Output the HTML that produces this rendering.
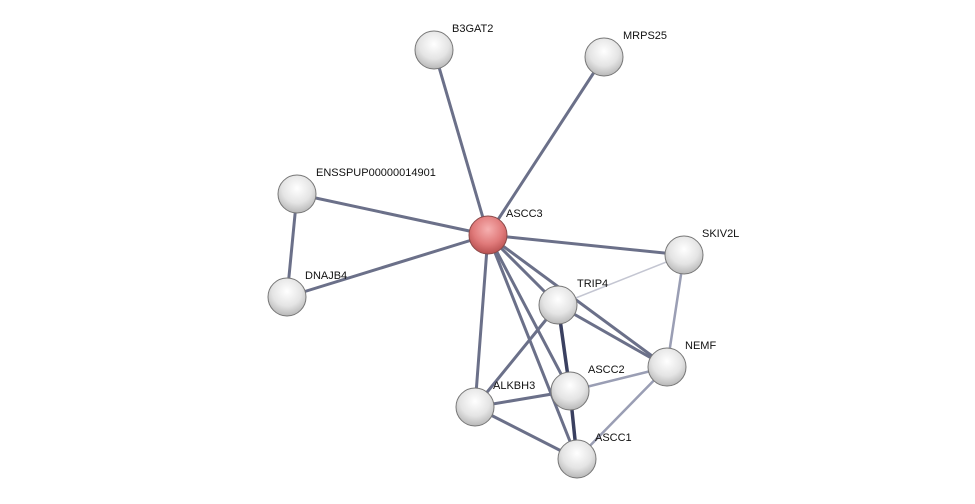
<!DOCTYPE html>
<html><head><meta charset="utf-8"><style>
html,body{margin:0;padding:0;background:#fff;}
svg{display:block;}
text{font-family:"Liberation Sans",sans-serif;font-size:11px;fill:#111;}
</style></head><body>
<svg width="975" height="504" viewBox="0 0 975 504" xmlns="http://www.w3.org/2000/svg">
<defs>
<radialGradient id="g" cx="50%" cy="35%" r="65%">
<stop offset="0" stop-color="#ffffff"/><stop offset="0.6" stop-color="#e4e4e4"/><stop offset="1" stop-color="#b8b8b8"/>
</radialGradient>
<radialGradient id="r" cx="50%" cy="35%" r="65%">
<stop offset="0" stop-color="#f6b0b0"/><stop offset="0.6" stop-color="#e07a7a"/><stop offset="1" stop-color="#b85050"/>
</radialGradient>
</defs>
<g stroke-linecap="round">
<g stroke="#6b7089" stroke-width="3">
<line x1="488" y1="235" x2="434" y2="50"/>
<line x1="488" y1="235" x2="604" y2="57"/>
<line x1="488" y1="235" x2="297" y2="194"/>
<line x1="488" y1="235" x2="684" y2="255"/>
<line x1="488" y1="235" x2="287" y2="297"/>
<line x1="488" y1="235" x2="558" y2="305"/>
<line x1="488" y1="235" x2="667" y2="367"/>
<line x1="488" y1="235" x2="570" y2="391"/>
<line x1="488" y1="235" x2="475" y2="407"/>
<line x1="488" y1="235" x2="577" y2="459"/>
<line x1="297" y1="194" x2="287" y2="297"/>
<line x1="558" y1="305" x2="667" y2="367"/>
<line x1="558" y1="305" x2="475" y2="407"/>
<line x1="475" y1="407" x2="570" y2="391"/>
<line x1="475" y1="407" x2="577" y2="459"/>
</g>
<g stroke="#3a4060" stroke-width="3.5">
<line x1="558" y1="305" x2="570" y2="391"/>
<line x1="570" y1="391" x2="577" y2="459"/>
</g>
<g stroke="#9a9eb4" stroke-width="2.5">
<line x1="684" y1="255" x2="667" y2="367"/>
<line x1="570" y1="391" x2="667" y2="367"/>
<line x1="577" y1="459" x2="667" y2="367"/>
</g>
<line x1="558" y1="305" x2="684" y2="255" stroke="#c4c6d2" stroke-width="1.5"/>
</g>
<g stroke="#777" stroke-width="1">
<circle cx="434" cy="50" r="19" fill="url(#g)"/>
<circle cx="604" cy="57" r="19" fill="url(#g)"/>
<circle cx="297" cy="194" r="19" fill="url(#g)"/>
<circle cx="684" cy="255" r="19" fill="url(#g)"/>
<circle cx="287" cy="297" r="19" fill="url(#g)"/>
<circle cx="558" cy="305" r="19" fill="url(#g)"/>
<circle cx="667" cy="367" r="19" fill="url(#g)"/>
<circle cx="570" cy="391" r="19" fill="url(#g)"/>
<circle cx="475" cy="407" r="19" fill="url(#g)"/>
<circle cx="577" cy="459" r="19" fill="url(#g)"/>
<circle cx="488" cy="235" r="19" fill="url(#r)" stroke="#8a4a4a"/>
</g>
<text x="452" y="32">B3GAT2</text>
<text x="623" y="39">MRPS25</text>
<text x="316" y="176">ENSSPUP00000014901</text>
<text x="506" y="217">ASCC3</text>
<text x="702" y="237">SKIV2L</text>
<text x="305" y="279">DNAJB4</text>
<text x="577" y="287">TRIP4</text>
<text x="685" y="349">NEMF</text>
<text x="588" y="373">ASCC2</text>
<text x="493" y="389">ALKBH3</text>
<text x="595" y="441">ASCC1</text>
</svg>
</body></html>
